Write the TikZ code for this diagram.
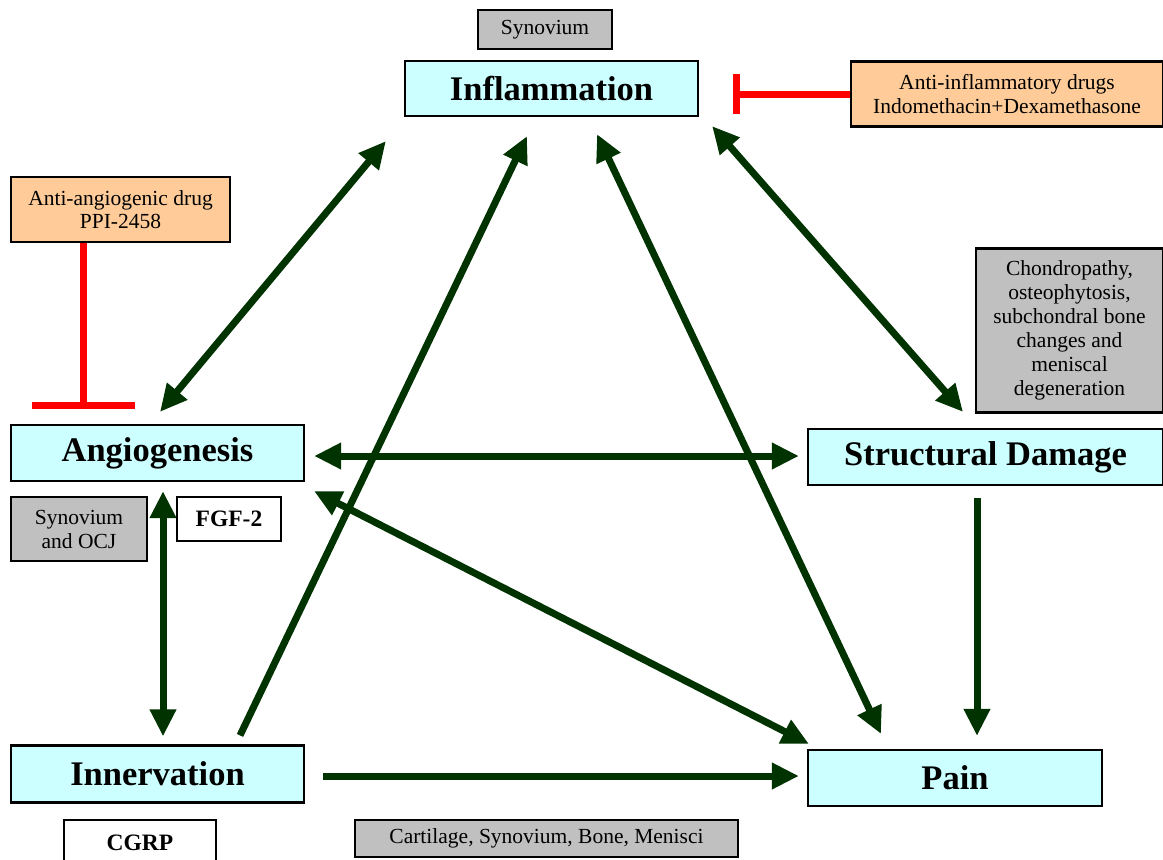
\documentclass[tikz,border=0pt]{standalone}
\usepackage{fontspec}
\setmainfont{Liberation Serif}
\usetikzlibrary{arrows.meta,calc}
\definecolor{boxcyan}{HTML}{CCFFFF}
\definecolor{boxorange}{HTML}{FFCC99}
\definecolor{boxgray}{HTML}{C0C0C0}
\definecolor{arrgreen}{HTML}{003300}
\begin{document}
\begin{tikzpicture}[x=1pt,y=-1pt,
  base/.style={draw=black,line width=2.2pt,inner sep=0pt,align=center,anchor=center},
  mainbox/.style={base,fill=boxcyan,font=\fontsize{34.5}{40}\selectfont\bfseries},
  graybox/.style={base,fill=boxgray,font=\fontsize{21.5}{24}\selectfont},
  drugbox/.style={base,fill=boxorange,font=\fontsize{21.5}{23.5}\selectfont},
  whitebox/.style={base,fill=white,font=\fontsize{23.5}{27}\selectfont\bfseries},
  conn/.style={draw=arrgreen,line width=7pt},
  dbl/.style={conn,{Triangle[length=27pt,width=25pt]}-{Triangle[length=27pt,width=25pt]}},
  sgl/.style={conn,-{Triangle[length=27pt,width=25pt]}},
  inhib/.style={draw=red,line width=7pt}
]
\useasboundingbox (0,0) rectangle (1163,860);

% nodes
\node[graybox,minimum width=134pt,minimum height=39pt] (syn1) at (545,29.5) {Synovium};
\node[mainbox,minimum width=293pt,minimum height=55pt] (infl) at (551.5,88.5) {Inflammation};
\node[drugbox,minimum width=312pt,minimum height=65pt] (antiinf) at (1007,94) {Anti-inflammatory drugs\\Indomethacin+Dexamethasone};
\node[drugbox,minimum width=219pt,minimum height=65pt] (antiang) at (120.5,209.5) {Anti-angiogenic drug\\PPI-2458};
\node[mainbox,minimum width=293pt,minimum height=56pt] (angio) at (157.5,453) {Angiogenesis};
\node[graybox,minimum width=136pt,minimum height=64pt] (synocj) at (79,529) {Synovium\\and OCJ};
\node[whitebox,minimum width=104pt,minimum height=44pt] (fgf) at (229,519) {FGF-2};
\node[graybox,minimum width=187pt,minimum height=164pt] (chond) at (1069.5,330.5) {Chondropathy,\\osteophytosis,\\subchondral bone\\changes and\\meniscal\\degeneration};
\node[mainbox,minimum width=355pt,minimum height=56pt] (struct) at (985.5,457) {Structural Damage};
\node[mainbox,minimum width=293pt,minimum height=57pt] (innerv) at (157.5,774) {Innervation};
\node[whitebox,minimum width=152pt,minimum height=46pt] (cgrp) at (140,843) {CGRP};
\node[graybox,minimum width=383pt,minimum height=37pt] (cart) at (546.5,838.5) {Cartilage, Synovium, Bone, Menisci};
\node[mainbox,minimum width=294pt,minimum height=56pt] (pain) at (955,778) {Pain};

% inhibition lines
\coordinate (infbar) at ($(antiinf.west)+(-113,0)$);
\draw[inhib] (antiinf.west) -- (infbar);
\draw[inhib] ($(infbar)+(0,-20)$) -- ($(infbar)+(0,20)$);
\coordinate (angbar) at ($(antiang.south west)+(74,162)$);
\draw[inhib] ($(antiang.south west)+(74,0)$) -- (angbar);
\draw[inhib] ($(angbar)+(-52,0)$) -- ($(angbar)+(51,0)$);

% connectors
\draw[dbl] ($(infl.south west)+(-18,24)$) -- ($(angio.north)+(2.5,-12)$);
\draw[sgl] ($(innerv.north)+(82.5,-9)$) -- ($(infl.south)+(-24.5,19)$);
\draw[dbl] ($(pain.north)+(-74,-15)$) -- ($(infl.south)+(45.5,17)$);
\draw[dbl] ($(infl.south east)+(13,9)$) -- ($(struct.north)+(-22.5,-16)$);
\draw[dbl] ($(angio.east)+(9,3)$) -- ($(struct.west)+(-8,-1)$);
\draw[dbl] ($(angio.south east)+(9,9)$) -- ($(pain.north west)+(2,-5)$);
\draw[dbl] ($(angio.south)+(5.5,9)$) -- ($(innerv.north)+(5.5,-8)$);
\draw[sgl] ($(innerv.east)+(18,2)$) -- ($(pain.west)+(-8,-2)$);
\draw[sgl] ($(struct.south)+(-8.5,12)$) -- ($(pain.north)+(22,-13)$);
\end{tikzpicture}
\end{document}
